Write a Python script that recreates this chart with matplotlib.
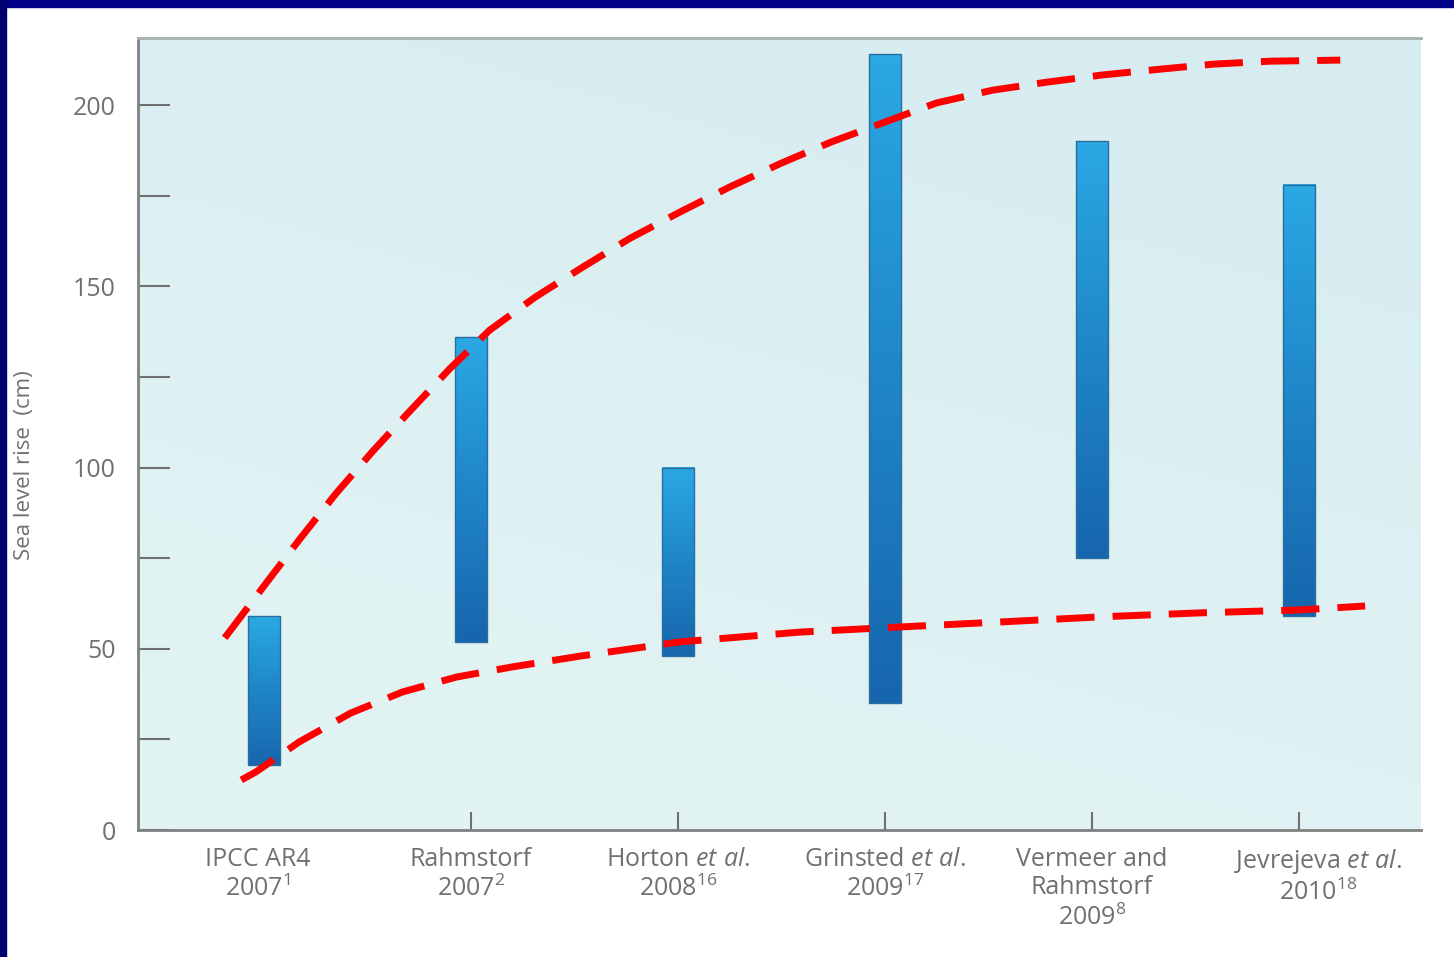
import numpy as np
import matplotlib
matplotlib.use('Agg')
import matplotlib.pyplot as plt
import matplotlib.transforms as mtransforms
from matplotlib.colors import LinearSegmentedColormap
from matplotlib.patches import Rectangle

plt.rcParams['font.family'] = ['Open Sans', 'DejaVu Sans']
plt.rcParams['mathtext.fontset'] = 'custom'
plt.rcParams['mathtext.rm'] = 'Open Sans'
plt.rcParams['mathtext.it'] = 'Open Sans:italic'

# Projections of sea level rise by 2100 (cm)
studies = [
    'IPCC AR4\n2007$^{1}$',
    'Rahmstorf\n2007$^{2}$',
    r'Horton $\mathit{et\ al.}$' + '\n2008$^{16}$',
    r'Grinsted $\mathit{et\ al.}$' + '\n2009$^{17}$',
    'Vermeer and\nRahmstorf\n2009$^{8}$',
    r'Jevrejeva $\mathit{et\ al.}$' + '\n2010$^{18}$',
]
low = [18, 52, 48, 35, 75, 59]
high = [59, 136, 100, 214, 190, 178]

# hand-drawn red dashed envelope
upper_x = [-0.19, -0.15, 0.01, 0.18, 0.35, 0.53, 0.71, 0.90, 1.09, 1.31, 1.54, 1.77,
           2.01, 2.25, 2.50, 2.74, 3.00, 3.25, 3.52, 3.78, 4.05, 4.33, 4.59, 4.86, 5.20]
upper_y = [53.0, 56.0, 68.1, 80.8, 93.0, 104.8, 115.9, 127.4, 137.9, 147.0, 155.3, 163.3,
           170.5, 177.4, 184.0, 189.8, 195.3, 200.6, 204.1, 206.3, 208.3, 209.9, 211.3, 212.1, 212.4]
lower_x = [-0.11, -0.04, 0.17, 0.42, 0.67, 0.93, 1.20, 1.53, 2.01, 2.59, 3.07, 3.56,
           4.04, 4.52, 5.00, 5.32]
lower_y = [13.8, 16.0, 24.3, 32.3, 38.1, 42.2, 45.0, 48.0, 51.9, 54.6, 56.0, 57.4,
           58.8, 59.9, 60.7, 61.8]

fig = plt.figure(figsize=(14.54, 9.57), dpi=100)
fig.patch.set_facecolor('white')
ax = fig.add_axes([138 / 1454, 1 - 830 / 957, (1421 - 138) / 1454, (830 - 38) / 957])

# background gradient
bg = LinearSegmentedColormap.from_list('bg', ['#e2f3f3', '#d6ecf1'])
yy, xx = np.mgrid[0:1:200j, 0:1:200j]
grad = np.clip(yy * 0.8 + xx * 0.35 - 0.15, 0, 1)
ax.imshow(grad, cmap=bg, origin='lower', extent=(0, 1, 0, 1), transform=ax.transAxes,
          aspect='auto', zorder=0)

# bars with vertical blue gradient
barcmap = LinearSegmentedColormap.from_list('bar', ['#1766ad', '#1f86c8', '#2aa8e4'])
w = 0.155
col = np.linspace(0, 1, 100).reshape(-1, 1)
for i, (lo, hi) in enumerate(zip(low, high)):
    ax.imshow(col, cmap=barcmap, origin='lower', aspect='auto',
              extent=(i - w / 2, i + w / 2, lo, hi), zorder=2)
    ax.add_patch(Rectangle((i - w / 2, lo), w, hi - lo, fill=False,
                           edgecolor='#2b6e9e', linewidth=1, zorder=3))

for xs, ys in [(upper_x, upper_y), (lower_x, lower_y)]:
    ax.plot(xs, ys, color='#ff0000', linewidth=5, dashes=(5.5, 2.6), zorder=4,
            dash_capstyle='butt', solid_joinstyle='round')

ax.set_xlim(-0.609, 5.59)
ax.set_ylim(0, 218.5)

ax.set_yticks([0, 50, 100, 150, 200])
ax.set_yticks([25, 75, 125, 175], minor=True)
ax.tick_params(axis='y', which='both', direction='in', length=23, width=1.5,
               color='#707070', labelcolor='#707070', labelsize=18, pad=16)
ax.set_xticks(range(len(studies)))
ax.set_xticklabels(studies, linespacing=1.2)
ax.tick_params(axis='x', direction='in', length=13, width=1.5, color='#707070',
               labelcolor='#707070', labelsize=18, pad=12)
ax.xaxis.get_major_ticks()[0].tick1line.set_visible(False)

# labels in the original are not exactly centred under the bars
shifts = {0: -6, 5: 19}
for k, dx in shifts.items():
    lab = ax.get_xticklabels()[k]
    lab.set_transform(lab.get_transform() + mtransforms.ScaledTranslation(dx / 100, 0, fig.dpi_scale_trans))

for s in ['left', 'bottom']:
    ax.spines[s].set_color('#808080')
    ax.spines[s].set_linewidth(2)
ax.spines['top'].set_color('#a8b0b0')
ax.spines['top'].set_linewidth(2)
ax.spines['right'].set_visible(False)

fig.text(25 / 1454, 1 - 465 / 957, 'Sea level rise  (cm)', rotation=90, color='#707070',
         fontsize=16, ha='center', va='center')

# navy frame of the slide
fig.patches.append(Rectangle((0, 1 - 7 / 957), 1, 7 / 957, transform=fig.transFigure,
                             color='#000088', zorder=10))
fig.patches.append(Rectangle((0, 0), 6 / 1454, 1, transform=fig.transFigure,
                             color='#000070', zorder=10))

fig.savefig('out.png', dpi=100)
